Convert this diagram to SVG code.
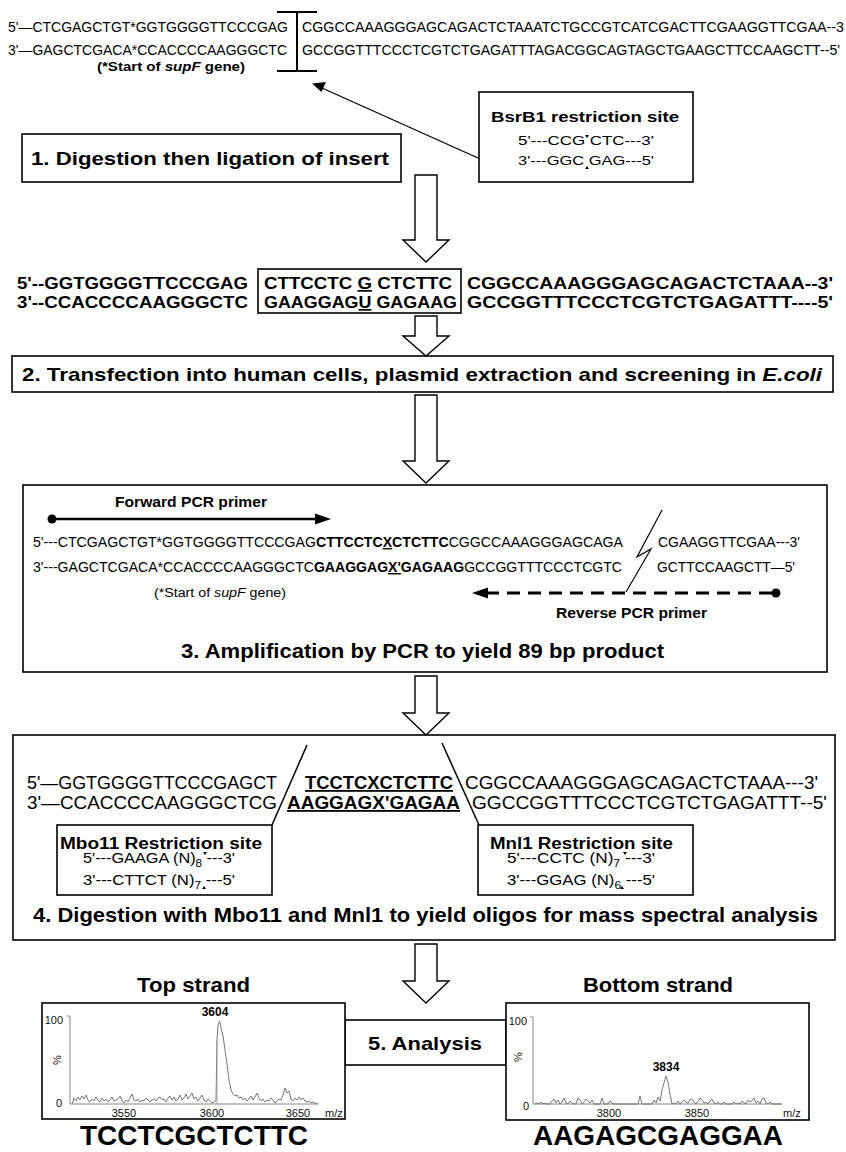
<svg xmlns="http://www.w3.org/2000/svg" width="846" height="1152" viewBox="0 0 846 1152">
<style>
text{font-family:"Liberation Sans",Arial,sans-serif;fill:#000}
.b{font-weight:bold}
.i{font-style:italic}
.u{text-decoration:underline}
.box{fill:#fff;stroke:#000;stroke-width:1.6}
.barrow{fill:#fff;stroke:#000;stroke-width:1.4}
.ln{stroke:#000;fill:none}
.spec{fill:none;stroke:#777;stroke-width:1}
.ax{stroke:#888;stroke-width:1;fill:none}
.sm{font-size:11px;fill:#111}
</style>
<rect width="846" height="1152" fill="#fff"/>

<g id="top-seq">
<text x="8" y="32" font-size="14" textLength="280" lengthAdjust="spacingAndGlyphs">5'—CTCGAGCTGT*GGTGGGGTTCCCGAG</text>
<text x="302" y="32" font-size="14" textLength="542" lengthAdjust="spacingAndGlyphs">CGGCCAAAGGGAGCAGACTCTAAATCTGCCGTCATCGACTTCGAAGGTTCGAA--3</text>
<text x="8" y="55" font-size="14" textLength="279" lengthAdjust="spacingAndGlyphs">3'—GAGCTCGACA*CCACCCCAAGGGCTC</text>
<text x="302" y="55" font-size="14" textLength="538" lengthAdjust="spacingAndGlyphs">GCCGGTTTCCCTCGTCTGAGATTTAGACGGCAGTAGCTGAAGCTTCCAAGCTT--5'</text>
<text x="97" y="71" font-size="12" class="b" textLength="148" lengthAdjust="spacingAndGlyphs">(*Start of <tspan class="i">supF</tspan> gene)</text>
<path class="ln" stroke-width="2" d="M277 12H317M297 12V71M277 71H317"/>
</g>

<g id="bsrb1">
<rect class="box" x="479" y="92" width="214" height="90"/>
<text x="491" y="122" font-size="15" class="b" textLength="188" lengthAdjust="spacingAndGlyphs">BsrB1 restriction site</text>
<text x="518" y="145" font-size="13" textLength="136" lengthAdjust="spacingAndGlyphs">5'---CCG CTC---3'</text>
<text x="518" y="165" font-size="13" textLength="136" lengthAdjust="spacingAndGlyphs">3'---GGC GAG---5'</text>
<polygon points="585,135 589,135 587,138"/>
<polygon points="585,169 589,169 587,166"/>
</g>

<g id="step1">
<rect class="box" x="22" y="134" width="379" height="48"/>
<text x="31" y="165" font-size="19" class="b" textLength="358" lengthAdjust="spacingAndGlyphs">1. Digestion then ligation of insert</text>
</g>

<g id="insert-seq">
<rect class="box" x="258" y="269" width="203" height="44" fill="none"/>
<text x="17" y="289" font-size="17" class="b" textLength="231" lengthAdjust="spacingAndGlyphs">5'--GGTGGGGTTCCCGAG</text>
<text x="264" y="289" font-size="17" class="b" textLength="188" lengthAdjust="spacingAndGlyphs">CTTCCTC <tspan class="u">G</tspan> CTCTTC</text>
<text x="467" y="289" font-size="17" class="b" textLength="366" lengthAdjust="spacingAndGlyphs">CGGCCAAAGGGAGCAGACTCTAAA--3'</text>
<text x="17" y="308" font-size="17" class="b" textLength="231" lengthAdjust="spacingAndGlyphs">3'--CCACCCCAAGGGCTC</text>
<text x="264" y="308" font-size="17" class="b" textLength="193" lengthAdjust="spacingAndGlyphs">GAAGGAG<tspan class="u">U</tspan> GAGAAG</text>
<text x="467" y="308" font-size="17" class="b" textLength="366" lengthAdjust="spacingAndGlyphs">GCCGGTTTCCCTCGTCTGAGATTT----5'</text>
</g>

<g id="step2">
<rect class="box" x="12" y="356" width="821" height="36"/>
<text x="22" y="381" font-size="19" class="b" textLength="800" lengthAdjust="spacingAndGlyphs">2. Transfection into human cells, plasmid extraction and screening in <tspan class="i">E.coli</tspan></text>
</g>

<g id="step3">
<rect class="box" x="23" y="485" width="804" height="187"/>
<text x="115" y="507" font-size="14" class="b" textLength="152" lengthAdjust="spacingAndGlyphs">Forward PCR primer</text>
<circle cx="52" cy="519" r="4.5"/>
<line class="ln" x1="52" y1="519" x2="318" y2="519" stroke-width="2.5"/>
<polygon points="315,513.5 331,519 315,524.5"/>
<text x="33" y="547" font-size="14" textLength="590" lengthAdjust="spacingAndGlyphs">5'---CTCGAGCTGT*GGTGGGGTTCCCGAG<tspan class="b">CTTCCTC<tspan class="u">X</tspan>CTCTTC</tspan>CGGCCAAAGGGAGCAGA</text>
<text x="658" y="547" font-size="14" textLength="142" lengthAdjust="spacingAndGlyphs">CGAAGGTTCGAA---3'</text>
<text x="33" y="572" font-size="14" textLength="589" lengthAdjust="spacingAndGlyphs">3'---GAGCTCGACA*CCACCCCAAGGGCTC<tspan class="b">GAAGGAG<tspan class="u">X'</tspan>GAGAAG</tspan>GCCGGTTTCCCTCGTC</text>
<text x="657" y="572" font-size="14" textLength="138" lengthAdjust="spacingAndGlyphs">GCTTCCAAGCTT—5'</text>
<polyline class="ln" stroke-width="1.2" points="662,510 637,557 651,549 626,592"/>
<text x="154" y="597" font-size="12" textLength="132" lengthAdjust="spacingAndGlyphs">(*Start of <tspan class="i">supF</tspan> gene)</text>
<circle cx="776" cy="593" r="4.5"/>
<line class="ln" x1="772" y1="593" x2="486" y2="593" stroke-width="3" stroke-dasharray="13 8"/>
<polygon points="488,587.5 472,593 488,598.5"/>
<text x="556" y="618" font-size="14" class="b" textLength="151" lengthAdjust="spacingAndGlyphs">Reverse PCR primer</text>
<text x="181" y="658" font-size="20" class="b" textLength="483" lengthAdjust="spacingAndGlyphs">3. Amplification by PCR to yield 89 bp product</text>
</g>

<g id="step4">
<rect class="box" x="13" y="735" width="822" height="205"/>
<text x="27" y="789" font-size="18" textLength="250" lengthAdjust="spacingAndGlyphs">5'—GGTGGGGTTCCCGAGCT</text>
<text x="305" y="789" font-size="18" class="b u" textLength="148" lengthAdjust="spacingAndGlyphs">TCCTCXCTCTTC</text>
<text x="465" y="789" font-size="18" textLength="353" lengthAdjust="spacingAndGlyphs">CGGCCAAAGGGAGCAGACTCTAAA---3'</text>
<text x="27" y="809" font-size="18" textLength="250" lengthAdjust="spacingAndGlyphs">3'—CCACCCCAAGGGCTCG</text>
<text x="287" y="809" font-size="18" class="b u" textLength="173" lengthAdjust="spacingAndGlyphs">AAGGAGX'GAGAA</text>
<text x="472" y="809" font-size="18" textLength="355" lengthAdjust="spacingAndGlyphs">GGCCGGTTTCCCTCGTCTGAGATTT--5'</text>
<line class="ln" stroke-width="1.5" x1="307" y1="745" x2="272" y2="825"/>
<line class="ln" stroke-width="1.5" x1="442" y1="743" x2="479" y2="825"/>
<text x="33" y="922" font-size="21" class="b" textLength="785" lengthAdjust="spacingAndGlyphs">4. Digestion with Mbo11 and Mnl1 to yield oligos for mass spectral analysis</text>
</g>

<g id="mbo11">
<rect class="box" x="57" y="825" width="215" height="70"/>
<text x="60" y="849" font-size="16" class="b" textLength="202" lengthAdjust="spacingAndGlyphs">Mbo11 Restriction site</text>
<text x="83" y="863" font-size="14" textLength="152" lengthAdjust="spacingAndGlyphs">5'---GAAGA (N)<tspan dy="4" font-size="10">8</tspan><tspan dy="-4">  ---3'</tspan></text>
<text x="83" y="885" font-size="14" textLength="152" lengthAdjust="spacingAndGlyphs">3'---CTTCT  (N)<tspan dy="4" font-size="10">7</tspan><tspan dy="-4">  ---5'</tspan></text>
<polygon points="203,852 207,852 205,855"/>
<polygon points="202,889 206,889 204,886"/>
</g>

<g id="mnl1">
<rect class="box" x="478" y="825" width="215" height="70"/>
<text x="490" y="849" font-size="16" class="b" textLength="183" lengthAdjust="spacingAndGlyphs">Mnl1 Restriction site</text>
<text x="507" y="863" font-size="14" textLength="148" lengthAdjust="spacingAndGlyphs">5'---CCTC  (N)<tspan dy="4" font-size="10">7</tspan><tspan dy="-4">   ---3'</tspan></text>
<text x="507" y="885" font-size="14" textLength="148" lengthAdjust="spacingAndGlyphs">3'---GGAG (N)<tspan dy="4" font-size="10">6</tspan><tspan dy="-4">   ---5'</tspan></text>
<polygon points="623,852 627,852 625,855"/>
<polygon points="620,889 624,889 622,886"/>
</g>

<g id="connectors">
<line class="ln" stroke-width="1.3" x1="478" y1="158" x2="322" y2="88"/>
<polygon points="312,83.5 326,82 321.5,92"/>
<polygon class="barrow" points="415,175 437,175 437,240 449,240 426,262 403,240 415,240"/>
<polygon class="barrow" points="415,316 437,316 437,336 449,336 426,356 403,336 415,336"/>
<polygon class="barrow" points="415,395 437,395 437,461 449,461 426,483 403,461 415,461"/>
<polygon class="barrow" points="415,676 437,676 437,713 449,713 426,735 403,713 415,713"/>
<polygon class="barrow" points="415,944 437,944 437,981 449,981 426,1003 403,981 415,981"/>
</g>

<g id="step5">
<rect class="box" x="345" y="1020" width="161" height="45"/>
<text x="368" y="1050" font-size="19" class="b" textLength="114" lengthAdjust="spacingAndGlyphs">5. Analysis</text>
</g>

<g id="spectrum-top">
<text x="137" y="992" font-size="20" class="b" textLength="113" lengthAdjust="spacingAndGlyphs">Top strand</text>
<rect class="box" x="42" y="1003" width="303" height="116"/>
<path class="ax" d="M67 1016H70V1104H318"/>
<text class="sm" x="63" y="1024" text-anchor="end">100</text>
<text class="sm" x="62" y="1107" text-anchor="end">0</text>
<text class="sm" transform="translate(61,1060) rotate(-90)" text-anchor="middle">%</text>
<text class="sm" x="124" y="1117" text-anchor="middle">3550</text>
<text class="sm" x="212" y="1117" text-anchor="middle">3600</text>
<text class="sm" x="298" y="1117" text-anchor="middle">3650</text>
<text class="sm" x="325" y="1117">m/z</text>
<text x="215" y="1016" font-size="12" class="b" text-anchor="middle">3604</text>
<polyline class="spec" points="72,1104 74,1098 76,1101 78,1097 80,1100 82,1096 84,1099 86,1095 88,1100 90,1102 92,1099 94,1101 96,1097 98,1100 100,1102 102,1098 104,1101 106,1099 108,1102 110,1100 112,1097 114,1101 116,1100 118,1099 120,1096 122,1101 124,1103 126,1100 128,1102 130,1098 132,1094 134,1100 136,1101 138,1099 140,1102 142,1100 144,1101 146,1098 148,1100 150,1102 152,1100 154,1099 156,1101 158,1098 160,1097 162,1100 164,1099 166,1102 168,1098 170,1096 172,1100 174,1097 176,1101 178,1099 180,1095 182,1100 184,1098 186,1094 188,1099 190,1096 192,1093 194,1099 196,1097 198,1101 200,1098 202,1095 204,1100 206,1102 208,1099 210,1101 212,1103 214,1102 216,1101 217,1040 218,1025 219.5,1021 221,1028 223,1036 225,1050 227,1064 229,1080 231,1090 233,1094 235,1096 237,1095 239,1098 241,1097 243,1100 245,1098 247,1101 249,1099 251,1096 253,1100 255,1097 257,1093 259,1098 261,1101 263,1099 265,1102 267,1100 269,1101 271,1098 273,1100 275,1103 277,1101 279,1099 281,1100 283,1095 285,1088 287,1093 289,1091 291,1099 293,1101 295,1098 297,1100 299,1097 301,1100 303,1098 305,1101 307,1102 309,1101 311,1103 313,1102 315,1103 318,1104"/>
<line x1="217" y1="1104" x2="217" y2="1040" stroke="#999" stroke-width="0.8"/>
<text x="80" y="1145" font-size="28" class="b" textLength="228" lengthAdjust="spacingAndGlyphs">TCCTCGCTCTTC</text>
</g>

<g id="spectrum-bottom">
<text x="583" y="992" font-size="20" class="b" textLength="150" lengthAdjust="spacingAndGlyphs">Bottom strand</text>
<rect class="box" x="506" y="1003" width="303" height="117"/>
<path class="ax" d="M530 1017H533V1104H782"/>
<text class="sm" x="527" y="1025" text-anchor="end">100</text>
<text class="sm" x="529" y="1110" text-anchor="end">0</text>
<text class="sm" transform="translate(522,1057) rotate(-90)" text-anchor="middle">%</text>
<text class="sm" x="609" y="1117" text-anchor="middle">3800</text>
<text class="sm" x="697" y="1117" text-anchor="middle">3850</text>
<text class="sm" x="783" y="1117">m/z</text>
<text x="666" y="1071" font-size="12" class="b" text-anchor="middle">3834</text>
<polyline class="spec" points="535,1104 537,1103 539,1104 541,1102 543,1104 545,1103 547,1104 550,1104 552,1101 554,1099 556,1103 558,1100 560,1104 562,1102 564,1098 566,1103 568,1104 570,1101 572,1103 574,1104 576,1104 578,1098 580,1100 582,1104 584,1102 586,1099 588,1101 590,1103 592,1100 594,1104 596,1104 598,1104 600,1104 602,1098 604,1104 606,1104 608,1104 610,1101 612,1103 614,1104 616,1104 618,1104 620,1104 622,1104 624,1104 626,1104 628,1104 630,1104 632,1104 634,1104 636,1104 638,1104 640,1096 642,1104 644,1104 646,1104 648,1104 650,1104 652,1104 654,1100 656,1103 658,1097 660,1101 662,1090 664,1083 666,1076 668,1082 670,1094 672,1104 674,1103 676,1104 678,1101 680,1104 682,1102 684,1100 686,1102 688,1103 690,1100 692,1099 694,1102 696,1104 698,1101 700,1098 702,1100 704,1103 706,1102 708,1104 710,1101 712,1099 714,1103 716,1104 718,1102 720,1104 722,1104 724,1102 726,1104 728,1104 730,1104 732,1104 734,1102 736,1104 738,1103 740,1104 742,1101 744,1103 746,1104 748,1100 750,1102 752,1101 754,1098 756,1103 758,1101 760,1104 762,1099 764,1098 766,1103 768,1104 770,1102 772,1104 775,1104 782,1104"/>
<text x="533" y="1145" font-size="28" class="b" textLength="250" lengthAdjust="spacingAndGlyphs">AAGAGCGAGGAA</text>
</g>
</svg>
